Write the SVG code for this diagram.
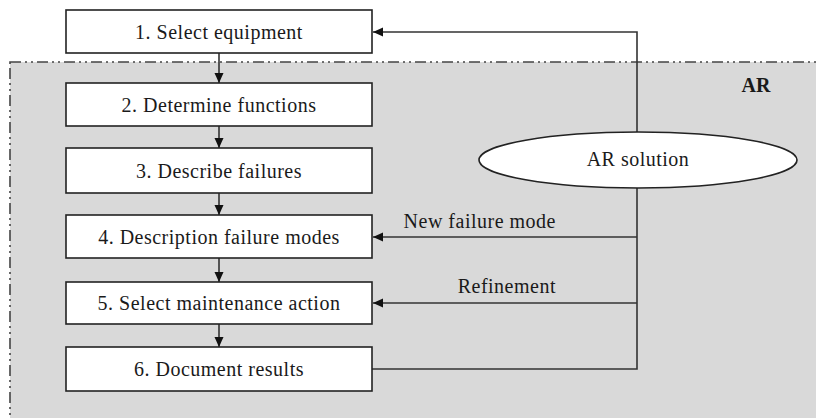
<svg xmlns="http://www.w3.org/2000/svg" width="816" height="418" viewBox="0 0 816 418">
<style>
  .box { fill: #ffffff; stroke: #222; stroke-width: 1.6; }
  .lbl { font-family: "Liberation Serif", "Times New Roman", serif; font-size: 20px; letter-spacing: 0.5px; fill: #1a1a1a; text-anchor: middle; }
  .side { font-family: "Liberation Serif", "Times New Roman", serif; font-size: 20px; letter-spacing: 0.5px; fill: #1a1a1a; text-anchor: end; }
  .conn { fill: none; stroke: #333; stroke-width: 1.6; }
  .region { fill: #d9d9d9; stroke: #444; stroke-width: 1.6; stroke-dasharray: 11 4 2 4 2 4; }
</style>
<defs>
  <marker id="arr" viewBox="0 0 10 10" refX="10" refY="5" markerWidth="10" markerHeight="10" markerUnits="userSpaceOnUse" orient="auto">
    <path d="M0,0.5 L10,5 L0,9.5 Z" fill="#111"/>
  </marker>
</defs>
<rect width="816" height="418" fill="#ffffff"/>
<g id="region-ar">
  <rect class="region" x="10" y="62" width="830" height="380"/>
  <text x="756" y="92" font-family="Liberation Serif, serif" font-size="20" font-weight="bold" fill="#1a1a1a" text-anchor="middle">AR</text>
</g>
<g id="connectors">
  <line class="conn" x1="219" y1="53" x2="219" y2="83" marker-end="url(#arr)"/>
  <line class="conn" x1="219" y1="126" x2="219" y2="148" marker-end="url(#arr)"/>
  <line class="conn" x1="219" y1="193" x2="219" y2="215" marker-end="url(#arr)"/>
  <line class="conn" x1="219" y1="258" x2="219" y2="282" marker-end="url(#arr)"/>
  <line class="conn" x1="219" y1="324" x2="219" y2="347" marker-end="url(#arr)"/>
  <path class="conn" d="M372,369 H637 V32 H373" marker-end="url(#arr)"/>
  <line class="conn" x1="637" y1="237" x2="373" y2="237" marker-end="url(#arr)"/>
  <line class="conn" x1="637" y1="303" x2="373" y2="303" marker-end="url(#arr)"/>
  <text class="side" x="556" y="228">New failure mode</text>
  <text class="side" x="556" y="293">Refinement</text>
</g>
<g id="n1"><rect class="box" x="66" y="10" width="306" height="43"/><text class="lbl" x="219" y="39">1. Select equipment</text></g>
<g id="n2"><rect class="box" x="66" y="83" width="306" height="43"/><text class="lbl" x="219" y="112">2. Determine functions</text></g>
<g id="n3"><rect class="box" x="66" y="148" width="306" height="45"/><text class="lbl" x="219" y="178">3. Describe failures</text></g>
<g id="n4"><rect class="box" x="66" y="215" width="306" height="43"/><text class="lbl" x="219" y="244">4. Description failure modes</text></g>
<g id="n5"><rect class="box" x="66" y="282" width="306" height="42"/><text class="lbl" x="219" y="310">5. Select maintenance action</text></g>
<g id="n6"><rect class="box" x="66" y="347" width="306" height="44"/><text class="lbl" x="219" y="376">6. Document results</text></g>
<g id="ar-solution"><ellipse cx="638" cy="160" rx="159" ry="28" fill="#ffffff" stroke="#222" stroke-width="1.6"/><text class="lbl" x="638" y="166">AR solution</text></g>
</svg>
